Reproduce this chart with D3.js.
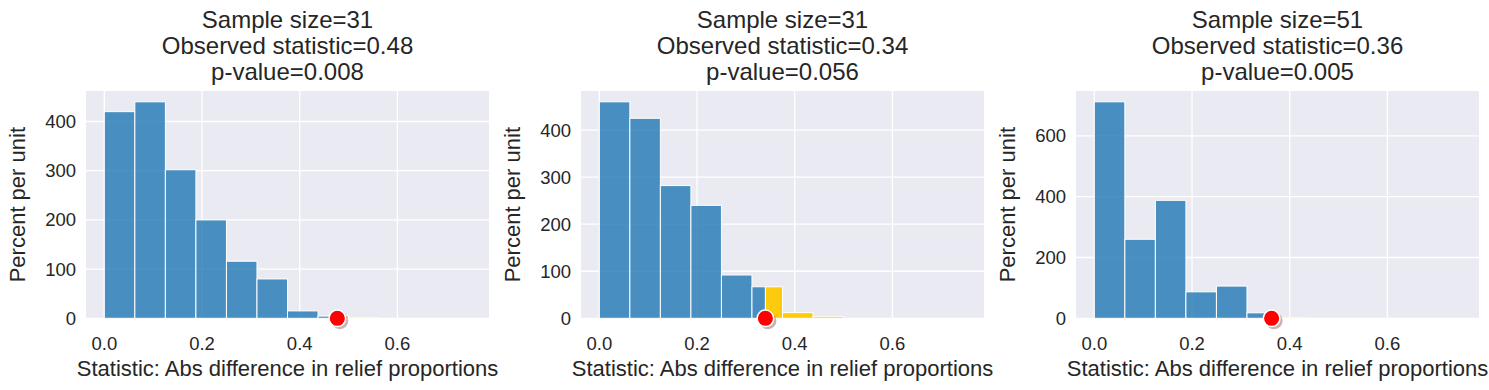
<!DOCTYPE html>
<html>
<head>
<meta charset="utf-8">
<script src="https://cdn.jsdelivr.net/npm/d3@7"></script>
<style>
  body { margin: 0; background: #fff; }
  text { font-family: "Liberation Sans", Arial, sans-serif; fill: #262626; }
</style>
</head>
<body>
<div id="chart"></div>
<script>
// histogram bin edges (shared by all three panels)
var binEdges = [0, 0.0625, 0.125, 0.1875, 0.25, 0.3125, 0.375, 0.4375, 0.5, 0.5625, 0.625, 0.6875, 0.75];

// percent per unit for each bin
var heights1 = [420, 440, 302, 200, 116, 80, 15, 4.5, 1, 0, 0, 0];
var heights2 = [460, 425, 282, 240, 92, 67, 12, 3.5, 0, 0, 0, 0];
var heights3 = [712, 260, 388, 87, 106, 18, 1, 0, 0, 0, 0, 0];

var sampleSizes = [31, 31, 51];
var observed = [0.477, 0.34, 0.363];
var pValues = ['0.008', '0.056', '0.005'];
var xTicks = [0, 0.2, 0.4, 0.6];
var xLabel = 'Statistic: Abs difference in relief proportions';
var yLabel = 'Percent per unit';

var panels = [
	{ heights: heights1, n: sampleSizes[0], obs: observed[0], p: pValues[0] },
	{ heights: heights2, n: sampleSizes[1], obs: observed[1], p: pValues[1] },
	{ heights: heights3, n: sampleSizes[2], obs: observed[2], p: pValues[2] }
];

var width = 1489, height = 390;
var plotW = 403, plotTop = 91, plotBottom = 318.3;
var lefts = [86, 581, 1076];

var blue = '#1f77b4', gold = '#ffc800', bg = '#eaeaf2';

var svg = d3.select('#chart').append('svg')
	.attr('width', width).attr('height', height);

panels.forEach(function (p, i) {
	var g = svg.append('g').attr('transform', 'translate(' + lefts[i] + ',0)');
	var lo = binEdges[0], hi = binEdges[binEdges.length - 1];
	var pad = (hi - lo) * 0.05;
	var x = d3.scaleLinear().domain([lo - pad, hi + pad]).range([0, plotW]);
	var y = d3.scaleLinear().domain([0, d3.max(p.heights) * 1.05]).range([plotBottom, plotTop]);

	g.append('rect')
		.attr('x', 0).attr('y', plotTop)
		.attr('width', plotW).attr('height', plotBottom - plotTop)
		.attr('fill', bg);

	// grid
	var yTicks = y.ticks(5);
	g.selectAll('.gy').data(yTicks).enter().append('line')
		.attr('x1', 0).attr('x2', plotW)
		.attr('y1', function (d) { return y(d); })
		.attr('y2', function (d) { return y(d); })
		.attr('stroke', '#fff').attr('stroke-width', 1.3);
	g.selectAll('.gx').data(xTicks).enter().append('line')
		.attr('y1', plotTop).attr('y2', plotBottom)
		.attr('x1', function (d) { return x(d); })
		.attr('x2', function (d) { return x(d); })
		.attr('stroke', '#fff').attr('stroke-width', 1.3);

	// split bins at the observed statistic
	var bars = [];
	p.heights.forEach(function (h, k) {
		var a = binEdges[k], b = binEdges[k + 1];
		if (h <= 0) return;
		if (b <= p.obs) {
			bars.push({ x0: a, x1: b, h: h, c: blue });
		} else if (a >= p.obs) {
			bars.push({ x0: a, x1: b, h: h, c: gold });
		} else {
			bars.push({ x0: a, x1: p.obs, h: h, c: blue });
			bars.push({ x0: p.obs, x1: b, h: h, c: gold });
		}
	});

	g.selectAll('.bar').data(bars).enter().append('rect')
		.attr('x', function (d) { return x(d.x0); })
		.attr('y', function (d) { return y(d.h); })
		.attr('width', function (d) { return x(d.x1) - x(d.x0); })
		.attr('height', function (d) { return y(0) - y(d.h); })
		.attr('fill', function (d) { return d.c; })
		.attr('fill-opacity', function (d) { return d.c === blue ? 0.8 : 0.95; })
		.attr('stroke', '#fff').attr('stroke-width', 1);

	// observed statistic marker
	g.append('circle')
		.attr('cx', x(p.obs) + 2.5).attr('cy', y(0) + 2.5).attr('r', 8.5)
		.attr('fill', '#4d0000').attr('fill-opacity', 0.3);
	g.append('circle')
		.attr('cx', x(p.obs)).attr('cy', y(0)).attr('r', 8.3)
		.attr('fill', 'red').attr('stroke', '#fff').attr('stroke-width', 1.5);

	// tick labels
	g.selectAll('.xt').data(xTicks).enter().append('text')
		.attr('x', function (d) { return x(d); })
		.attr('y', 349.5)
		.attr('text-anchor', 'middle')
		.style('font-size', '18.5px')
		.text(function (d) { return d3.format('.1f')(d); });
	g.selectAll('.yt').data(yTicks).enter().append('text')
		.attr('x', -10)
		.attr('y', function (d) { return y(d); })
		.attr('dy', '0.35em')
		.attr('text-anchor', 'end')
		.style('font-size', '18.5px')
		.text(function (d) { return d; });

	g.append('text')
		.attr('x', plotW / 2).attr('y', 376)
		.attr('text-anchor', 'middle')
		.style('font-size', '22px')
		.text(xLabel);
	g.append('text')
		.attr('transform', 'translate(' + (-61) + ',' + ((plotTop + plotBottom) / 2) + ') rotate(-90)')
		.attr('text-anchor', 'middle')
		.style('font-size', '22px')
		.text(yLabel);

	var lines = ['Sample size=' + p.n, 'Observed statistic=' + p.obs.toFixed(2), 'p-value=' + p.p];
	g.selectAll('.tt').data(lines).enter().append('text')
		.attr('x', plotW / 2)
		.attr('y', function (d, k) { return 28.3 + k * 26; })
		.attr('text-anchor', 'middle')
		.style('font-size', '24px')
		.text(function (d) { return d; });
});
</script>
</body>
</html>
